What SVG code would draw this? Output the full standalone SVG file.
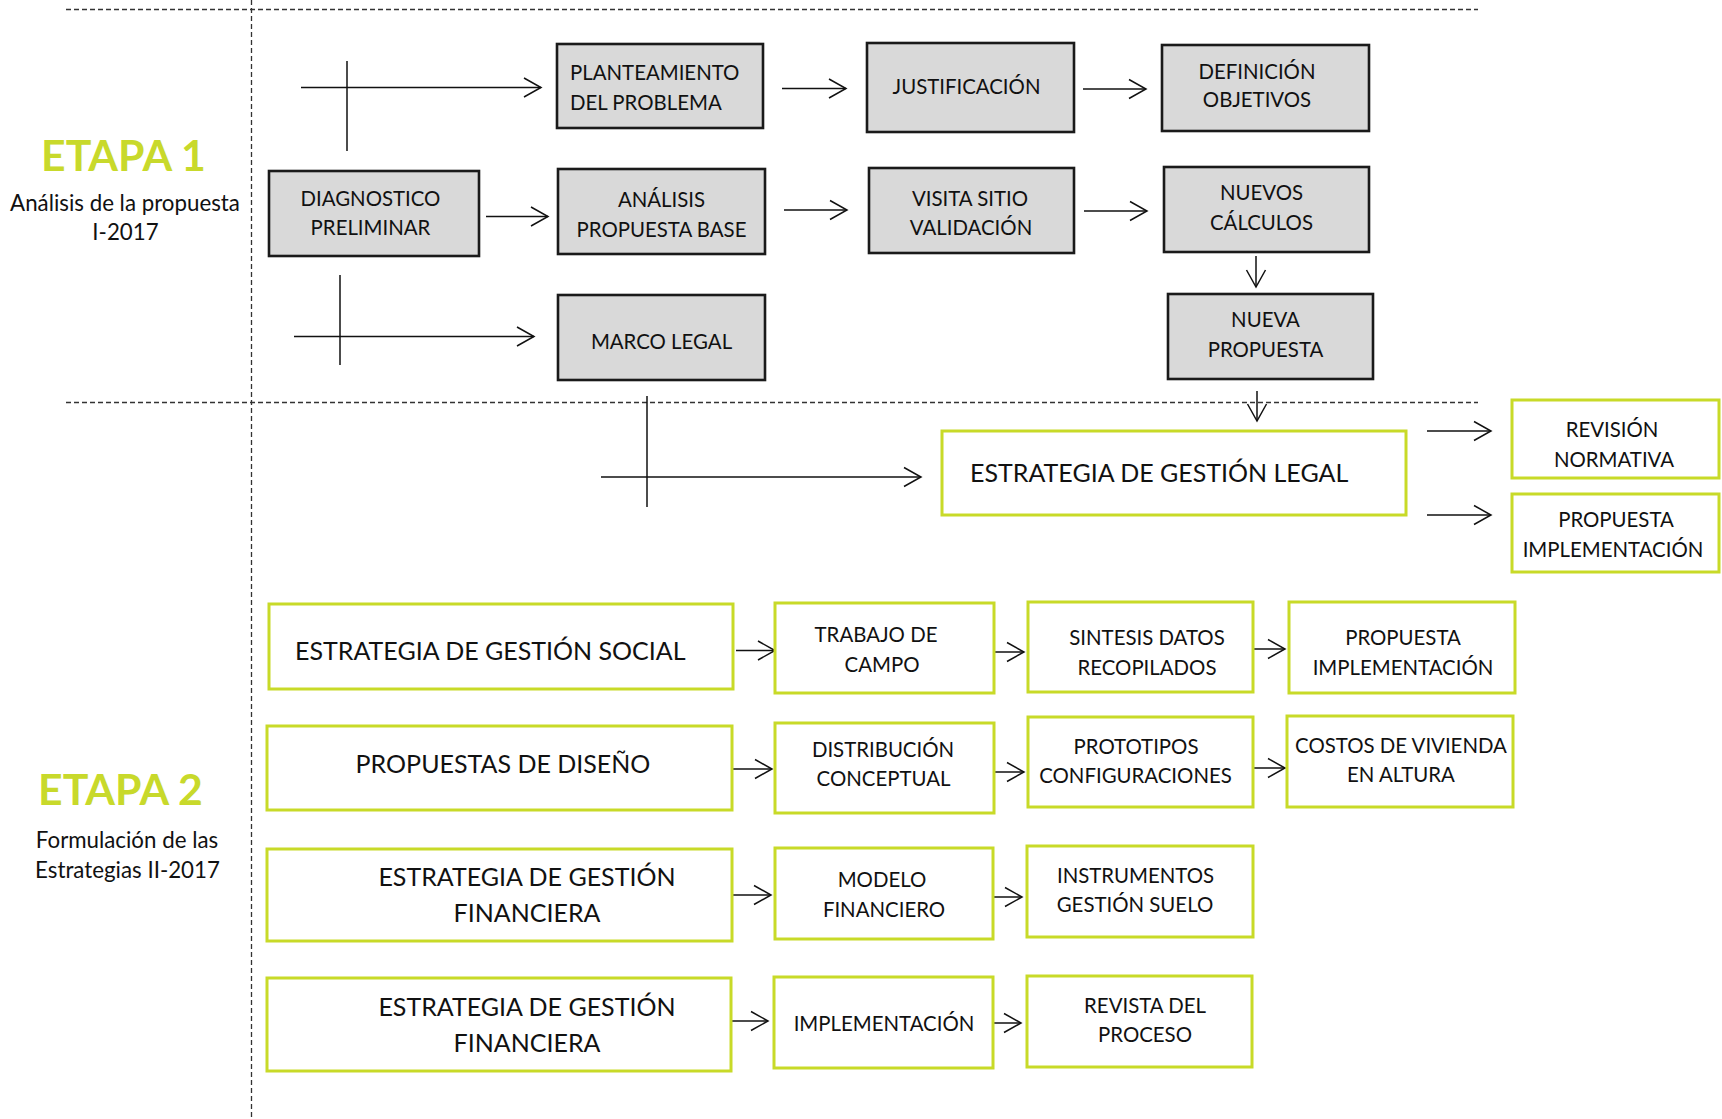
<svg xmlns="http://www.w3.org/2000/svg" width="1722" height="1119" viewBox="0 0 1722 1119">
<style>
text{font-family:Lato,"Open Sans","Liberation Sans",sans-serif;fill:#111}
.g rect{fill:#d9d9d9;stroke:#1a1a1a;stroke-width:2.6}
.v rect{fill:#fff;stroke:#c8da28;stroke-width:3}
.s{font-size:20.4px}
.b{font-size:25px}
.m{text-anchor:middle}
.et{font-size:42.8px;font-weight:700;fill:#c8d92b;text-anchor:middle}
.sub{font-size:22.3px;text-anchor:middle}
.dash{stroke:#333;stroke-width:1.3;stroke-dasharray:5 3;fill:none}
.c path{fill:none;stroke:#111;stroke-width:1.5}
.c .a{marker-end:url(#ah)}
</style>
<defs>
<marker id="ah" markerUnits="userSpaceOnUse" viewBox="-19 -11 21 22" refX="0" refY="0" markerWidth="21" markerHeight="22" orient="auto">
<path d="M-17,-9.5 L0,0 L-17,9.5" fill="none" stroke="#111" stroke-width="1.5"/>
</marker>
</defs>
<rect width="1722" height="1119" fill="#fff"/>
<g id="guides">
<path class="dash" d="M66,9.5 H1478"/>
<path class="dash" d="M66,402.5 H1478"/>
<path class="dash" d="M251.5,0 V1119"/>
</g>
<g id="labels">
<text class="et" x="123.5" y="171">ETAPA 1</text>
<text class="sub" x="125" y="211">Análisis de la propuesta</text>
<text class="sub" x="125.5" y="240">I-2017</text>
<text class="et" x="120.5" y="805">ETAPA 2</text>
<text class="sub" x="127" y="848">Formulación de las</text>
<text class="sub" x="127.5" y="878">Estrategias II-2017</text>
</g>
<g id="connectors" class="c">
<path class="a" d="M301,87.5 H541"/>
<path d="M347,61 V151"/>
<path class="a" d="M486,216.5 H548"/>
<path class="a" d="M294,336.5 H534"/>
<path d="M340,275 V365"/>
<path class="a" d="M782,88.5 H846"/>
<path class="a" d="M1083,89 H1146"/>
<path class="a" d="M784,210 H847"/>
<path class="a" d="M1084,211 H1147"/>
<path class="a" d="M1256,256 V287"/>
<path class="a" d="M1257,391 V421"/>
<path d="M647,396 V507"/>
<path class="a" d="M601,477 H921"/>
<path class="a" d="M1427,431 H1491"/>
<path class="a" d="M1427,515 H1491"/>
<path class="a" d="M736,650.5 H775"/>
<path class="a" d="M984,652 H1024"/>
<path class="a" d="M1245,649 H1285"/>
<path class="a" d="M733,769 H772"/>
<path class="a" d="M985,772 H1024"/>
<path class="a" d="M1246,768 H1285"/>
<path class="a" d="M732,895 H771"/>
<path class="a" d="M982,897 H1022"/>
<path class="a" d="M730,1021 H768"/>
<path class="a" d="M982,1023 H1021"/>
</g>
<g id="n-planteamiento" class="g"><rect x="557" y="44" width="206" height="84"/><text class="s" x="570" y="80">PLANTEAMIENTO</text><text class="s" x="570" y="110">DEL PROBLEMA</text></g>
<g id="n-justificacion" class="g"><rect x="867" y="43" width="207" height="89"/><text class="s m" x="966.5" y="94">JUSTIFICACIÓN</text></g>
<g id="n-definicion" class="g"><rect x="1162" y="45" width="207" height="86"/><text class="s m" x="1257" y="79">DEFINICIÓN</text><text class="s m" x="1257" y="107">OBJETIVOS</text></g>
<g id="n-diagnostico" class="g"><rect x="269" y="171" width="210" height="85"/><text class="s m" x="370.5" y="205.5">DIAGNOSTICO</text><text class="s m" x="370.5" y="235">PRELIMINAR</text></g>
<g id="n-analisis" class="g"><rect x="558" y="169" width="207" height="85"/><text class="s m" x="661.5" y="207">ANÁLISIS</text><text class="s m" x="661.5" y="237">PROPUESTA BASE</text></g>
<g id="n-visita" class="g"><rect x="869" y="168" width="205" height="85"/><text class="s m" x="970" y="206">VISITA SITIO</text><text class="s m" x="971" y="235">VALIDACIÓN</text></g>
<g id="n-nuevos" class="g"><rect x="1164" y="167" width="205" height="85"/><text class="s m" x="1261.5" y="200">NUEVOS</text><text class="s m" x="1261.5" y="230">CÁLCULOS</text></g>
<g id="n-marco" class="g"><rect x="558" y="295" width="207" height="85"/><text class="s m" x="661.5" y="349">MARCO LEGAL</text></g>
<g id="n-nueva" class="g"><rect x="1168" y="294" width="205" height="85"/><text class="s m" x="1265.5" y="327">NUEVA</text><text class="s m" x="1265.5" y="357">PROPUESTA</text></g>
<g id="n-legal" class="v"><rect x="942" y="431" width="464" height="84"/><text class="b" x="970" y="482">ESTRATEGIA DE GESTIÓN LEGAL</text></g>
<g id="n-revision" class="v"><rect x="1512" y="400" width="207" height="78"/><text class="s m" x="1612" y="437">REVISIÓN</text><text class="s m" x="1614" y="467">NORMATIVA</text></g>
<g id="n-propuesta-legal" class="v"><rect x="1512" y="494" width="207" height="78"/><text class="s m" x="1616" y="527">PROPUESTA</text><text class="s m" x="1613" y="557">IMPLEMENTACIÓN</text></g>
<g id="n-social" class="v"><rect x="269" y="604" width="464" height="85"/><text class="b" x="295" y="660">ESTRATEGIA DE GESTIÓN SOCIAL</text></g>
<g id="n-trabajo" class="v"><rect x="775" y="603" width="219" height="90"/><text class="s m" x="876" y="642">TRABAJO DE</text><text class="s m" x="882" y="672">CAMPO</text></g>
<g id="n-sintesis" class="v"><rect x="1028" y="602" width="225" height="90"/><text class="s m" x="1147" y="645">SINTESIS DATOS</text><text class="s m" x="1147" y="675">RECOPILADOS</text></g>
<g id="n-propuesta-social" class="v"><rect x="1289" y="602" width="226" height="91"/><text class="s m" x="1403" y="645">PROPUESTA</text><text class="s m" x="1403" y="675">IMPLEMENTACIÓN</text></g>
<g id="n-diseno" class="v"><rect x="267" y="726" width="465" height="84"/><text class="b m" x="503" y="773">PROPUESTAS DE DISEÑO</text></g>
<g id="n-distribucion" class="v"><rect x="775" y="723" width="219" height="90"/><text class="s m" x="883" y="757">DISTRIBUCIÓN</text><text class="s m" x="883.5" y="786">CONCEPTUAL</text></g>
<g id="n-prototipos" class="v"><rect x="1028" y="717" width="225" height="90"/><text class="s m" x="1136" y="754">PROTOTIPOS</text><text class="s m" x="1135.5" y="783">CONFIGURACIONES</text></g>
<g id="n-costos" class="v"><rect x="1287" y="716" width="226" height="91"/><text class="s m" x="1401" y="753">COSTOS DE VIVIENDA</text><text class="s m" x="1401" y="782">EN ALTURA</text></g>
<g id="n-financiera-1" class="v"><rect x="267" y="849" width="465" height="92"/><text class="b m" x="527" y="886">ESTRATEGIA DE GESTIÓN</text><text class="b m" x="527" y="922">FINANCIERA</text></g>
<g id="n-modelo" class="v"><rect x="775" y="848" width="218" height="91"/><text class="s m" x="882" y="887">MODELO</text><text class="s m" x="884" y="917">FINANCIERO</text></g>
<g id="n-instrumentos" class="v"><rect x="1027" y="846" width="226" height="91"/><text class="s m" x="1135.5" y="883">INSTRUMENTOS</text><text class="s m" x="1135" y="912">GESTIÓN SUELO</text></g>
<g id="n-financiera-2" class="v"><rect x="267" y="978" width="464" height="93"/><text class="b m" x="527" y="1016">ESTRATEGIA DE GESTIÓN</text><text class="b m" x="527" y="1052">FINANCIERA</text></g>
<g id="n-implementacion" class="v"><rect x="774" y="977" width="219" height="91"/><text class="s m" x="884" y="1031">IMPLEMENTACIÓN</text></g>
<g id="n-revista" class="v"><rect x="1027" y="976" width="225" height="91"/><text class="s m" x="1145" y="1013">REVISTA DEL</text><text class="s m" x="1145" y="1042">PROCESO</text></g>
</svg>
